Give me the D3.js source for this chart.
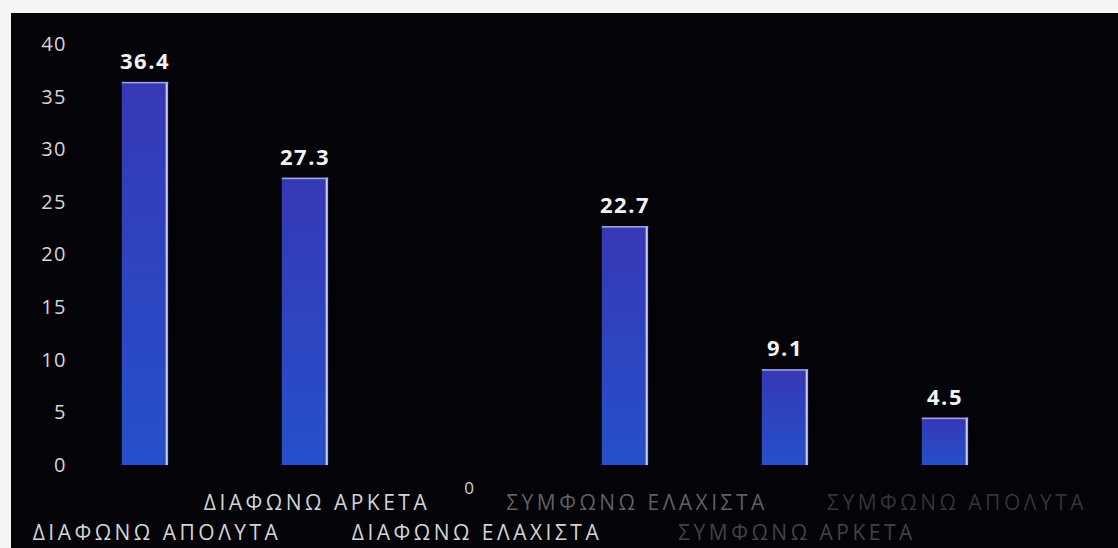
<!DOCTYPE html>
<html>
<head>
<meta charset="utf-8">
<script src="https://cdn.jsdelivr.net/npm/d3@7"></script>
<style>
  html, body { margin: 0; padding: 0; background: #f4f4f4; }
  svg { display: block; }
</style>
</head>
<body>
<svg id="chart" width="1118" height="548"></svg>
<script>
// Survey answers (percent of respondents)
const categories = [
  "ΔΙΑΦΩΝΩ ΑΠΟΛΥΤΑ",
  "ΔΙΑΦΩΝΩ ΑΡΚΕΤΑ",
  "ΔΙΑΦΩΝΩ ΕΛΑΧΙΣΤΑ",
  "ΣΥΜΦΩΝΩ ΕΛΑΧΙΣΤΑ",
  "ΣΥΜΦΩΝΩ ΑΡΚΕΤΑ",
  "ΣΥΜΦΩΝΩ ΑΠΟΛΥΤΑ"
];
const values = [36.4, 27.3, 0, 22.7, 9.1, 4.5];
const yTicks = [0, 5, 10, 15, 20, 25, 30, 35, 40];

const W = 1118, H = 548;
const svg = d3.select("#chart");

// light frame, black plot panel
svg.append("rect").attr("width", W).attr("height", H).attr("fill", "#f5f5f5");
svg.append("rect").attr("x", 11).attr("y", 13).attr("width", W - 11).attr("height", H - 13)
  .attr("fill", "#030308");

const x = d3.scaleBand().domain(categories).range([65, 1025])
  .paddingInner(0.71).paddingOuter(0.355);
const y = d3.scaleLinear().domain([0, 40]).range([465, 44]);

// bar fill
const defs = svg.append("defs");
const grad = defs.append("linearGradient").attr("id", "barFill")
  .attr("x1", 0).attr("y1", 0).attr("x2", 0).attr("y2", 1);
grad.append("stop").attr("offset", "0%").attr("stop-color", "#3638b4");
grad.append("stop").attr("offset", "50%").attr("stop-color", "#2d44c0");
grad.append("stop").attr("offset", "100%").attr("stop-color", "#2650cb");

// y axis: labels only
const yAxis = svg.append("g").attr("transform", "translate(67,0)")
  .call(d3.axisLeft(y).tickValues(yTicks).tickSize(0).tickPadding(0));
yAxis.select(".domain").remove();
yAxis.selectAll("text")
  .attr("fill", "#d6d6d6")
  .attr("font-family", "'Open Sans', sans-serif")
  .attr("font-size", 20)
  .attr("letter-spacing", 1.5);

const rows = values.map((v, i) => ({ v, c: categories[i], i }));

// bars
const bars = svg.append("g").selectAll("g").data(rows.filter(d => d.v > 0)).join("g");
bars.append("rect")
  .attr("x", d => x(d.c))
  .attr("y", d => y(d.v))
  .attr("width", x.bandwidth())
  .attr("height", d => y(0) - y(d.v))
  .attr("fill", "url(#barFill)");
// light right edge and top edge
bars.append("rect")
  .attr("x", d => x(d.c) + x.bandwidth() - 2.5)
  .attr("y", d => y(d.v))
  .attr("width", 2)
  .attr("height", d => y(0) - y(d.v))
  .attr("fill", "#d4d2f2");
bars.append("rect")
  .attr("x", d => x(d.c))
  .attr("y", d => y(d.v))
  .attr("width", x.bandwidth())
  .attr("height", 1.5)
  .attr("fill", "#a4a4e4");

// value labels
svg.append("g").selectAll("text").data(rows)
  .join("text")
  .attr("x", d => x(d.c) + x.bandwidth() / 2 + (d.v > 0 ? 0 : 4))
  .attr("y", d => d.v > 0 ? y(d.v) - 13 : y(0) + 29)
  .attr("text-anchor", "middle")
  .attr("fill", d => d.v > 0 ? "#f2f2f2" : "#d0d0d0")
  .attr("font-family", "'Open Sans', sans-serif")
  .attr("font-weight", d => d.v > 0 ? 700 : 400)
  .attr("font-size", d => d.v > 0 ? 22 : 17)
  .attr("letter-spacing", d => d.v > 0 ? 1.5 : 0)
  .text(d => d.v);

// category labels, staggered on two rows; the agree side prints faintly
const labelOpacity = [1, 1, 1, 0.6, 0.42, 0.32];
svg.append("g").selectAll("text").data(categories)
  .join("text")
  .attr("x", d => x(d) + x.bandwidth() / 2 + 12)
  .attr("y", (d, i) => i % 2 === 1 ? 510 : 540)
  .attr("text-anchor", "middle")
  .attr("fill", (d, i) => i < 3 ? "#d4d4d4" : "#a0a0a0")
  .attr("fill-opacity", (d, i) => labelOpacity[i])
  .attr("font-family", "'Open Sans', sans-serif")
  .attr("font-size", 21)
  .attr("letter-spacing", 3.5)
  .text(d => d);
</script>
</body>
</html>
